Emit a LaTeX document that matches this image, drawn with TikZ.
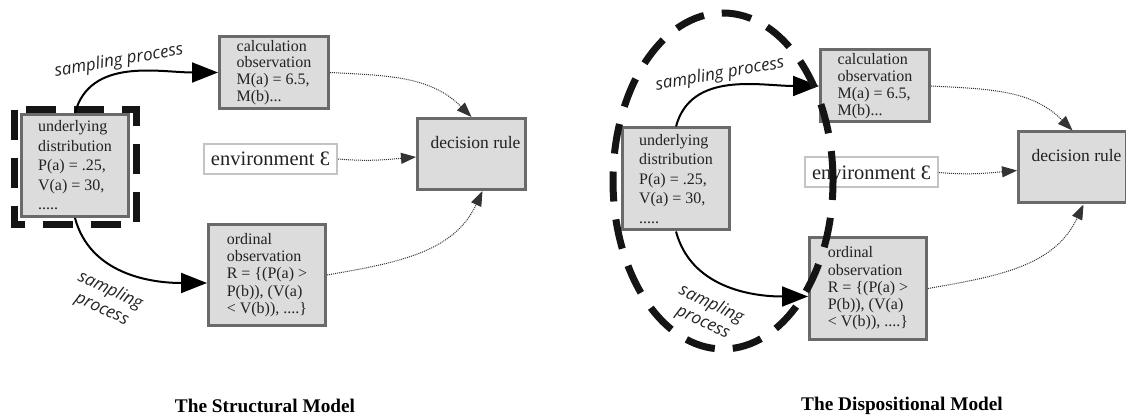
\documentclass[tikz,border=0pt]{standalone}
\usepackage{fontspec}
\setmainfont{Liberation Serif}
\newfontfamily\labfont{Open Sans}
\usetikzlibrary{arrows.meta}
\definecolor{boxfill}{HTML}{DCDCDC}
\definecolor{boxline}{HTML}{6A6A6A}
\definecolor{envline}{HTML}{C4C4C4}
\definecolor{txt}{HTML}{222222}
\tikzset{
 gbox/.style={draw=boxline, line width=3pt, fill=boxfill, text=txt, inner sep=0pt, align=left},
 envbox/.style={draw=envline, line width=2pt, fill=white, text=txt, inner sep=0pt,
   minimum width=133pt, minimum height=30pt, font=\fontsize{20.5}{24}\selectfont},
 samp/.style={-{Triangle[length=26pt,width=20pt]}, line width=2pt, black},
 dots/.style={-{Triangle[length=15pt,width=11pt]}, line width=1pt, densely dotted, black!80},
 slabel/.style={font=\labfont\itshape\fontsize{17}{20}\selectfont, text=txt, align=center, inner sep=0pt},
 bigdash/.style={line width=7pt, dash pattern=on 30pt off 18pt, black!92},
 titletext/.style={font=\bfseries\fontsize{19.3}{22}\selectfont, text=black},
}
\newcommand{\mydiagram}[1]{%
  \node[gbox, minimum width=107pt, minimum height=102pt,
    font=\fontsize{16}{19.5}\selectfont] (u#1) at (75,165.5)
    {underlying\\distribution\\P(a) = .25,\\V(a) = 30,\\.....};
  \node[gbox, minimum width=109pt, minimum height=72pt,
    font=\fontsize{16}{16.8}\selectfont] (c#1) at (274,72.5)
    {calculation\\observation\\M(a) = 6.5,\\M(b)...};
  \node[gbox, minimum width=117pt, minimum height=101pt,
    font=\fontsize{16}{17.2}\selectfont] (o#1) at (267,275)
    {ordinal\\observation\\R = \{(P(a) >\\P(b)), (V(a)\\< V(b)), ....\}};
  \node[envbox] (e#1) at (270.5,159) {environment Ɛ};
  \node[gbox, minimum width=108pt, minimum height=71pt, align=center,
    font=\fontsize{17.5}{20}\selectfont] (d#1) at (471.5,154) {\hspace*{8pt}decision rule\\[4pt]};
  \draw[samp] (u#1.north) to[out=75,in=180] (c#1.west);
  \draw[samp] (u#1.south) to[out=-75,in=180] ([yshift=-8pt]o#1.west);
  \draw[dots] (c#1.east) to[out=-3,in=135] (d#1.north);
  \draw[dots] (e#1.east) to[out=-5,in=185] ([yshift=-3pt]d#1.west);
  \draw[dots] (o#1.east) to[out=10,in=-115] ([xshift=11pt]d#1.south);
  \node[slabel, rotate=10] (sa#1) at (119,61) {sampling process};
  \node[slabel, rotate=-25] (sb#1) at (106,300) {sampling\\process};
}
\begin{document}
\begin{tikzpicture}[x=1pt,y=-1pt]
\useasboundingbox (0,0) rectangle (1126,419);
% left: structural model
\draw[bigdash] (14,110) rectangle (136,225);
\mydiagram{L}
\node[titletext] (tL) at (265,406) {The Structural Model};
% right: dispositional model
\begin{scope}[shift={(601,13.5)}]
\mydiagram{R}
\end{scope}
\draw[bigdash] (723,181) ellipse [x radius=110pt, y radius=168pt];
\node[titletext] (tR) at (902,406) {The Dispositional Model};
\end{tikzpicture}
\end{document}
